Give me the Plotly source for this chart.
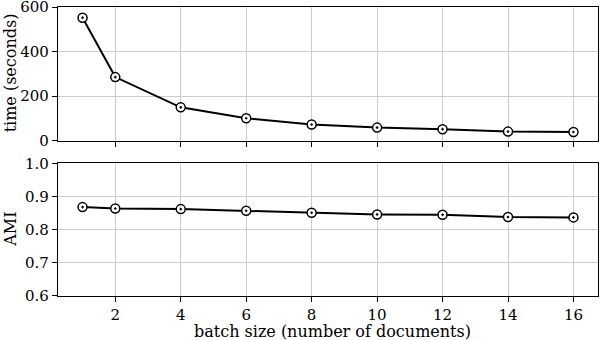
import plotly.graph_objects as go
from plotly.subplots import make_subplots

batch = [1, 2, 4, 6, 8, 10, 12, 14, 16]
time_sec = [552, 285, 149, 100, 72, 58, 51, 40, 38]
ami = [0.868, 0.864, 0.862, 0.857, 0.851, 0.846, 0.845, 0.838, 0.837]

FONT = dict(family="DejaVu Serif", size=16, color="black")
TICKFONT = dict(family="DejaVu Serif", size=15, color="black")

fig = make_subplots(rows=2, cols=1, shared_xaxes=True, vertical_spacing=0.08)

mk = dict(symbol="circle-dot", size=9, color="white", line=dict(color="black", width=1.5))
fig.add_trace(go.Scatter(x=batch, y=time_sec, mode="lines+markers",
                         line=dict(color="black", width=2), marker=mk), row=1, col=1)
fig.add_trace(go.Scatter(x=batch, y=ami, mode="lines+markers",
                         line=dict(color="black", width=2), marker=mk), row=2, col=1)

ax = dict(showline=True, linecolor="black", linewidth=1.2, mirror=True,
          ticks="outside", ticklen=5, tickcolor="black", automargin=False,
          showgrid=True, gridcolor="#cccccc", gridwidth=1, zeroline=False,
          tickfont=TICKFONT, ticklabeloverflow="allow")
fig.update_xaxes(**ax, range=[0.25, 16.75], tickvals=[2, 4, 6, 8, 10, 12, 14, 16])
fig.update_yaxes(**ax)
fig.update_xaxes(showticklabels=False, row=1, col=1)
fig.update_xaxes(ticklabelstandoff=0, row=2, col=1)
fig.update_yaxes(range=[0, 600], tickvals=[0, 200, 400, 600], row=1, col=1)
fig.update_yaxes(range=[0.6, 1.0], tickvals=[0.6, 0.7, 0.8, 0.9, 1.0], tickformat=".1f", row=2, col=1)

# axis titles as annotations so their spots stay fixed
fig.add_annotation(text="batch size (number of documents)", xref="paper", yref="paper",
                   x=0.509, y=-0.122, showarrow=False, font=FONT, borderpad=0,
                   xanchor="center", yanchor="middle")
fig.add_annotation(text="time (seconds)", xref="paper", yref="paper", textangle=-90,
                   x=-0.088, y=0.772, showarrow=False, font=FONT, borderpad=0,
                   xanchor="center", yanchor="middle")
fig.add_annotation(text="AMI", xref="paper", yref="paper", textangle=-90,
                   x=-0.088, y=0.231, showarrow=False, font=FONT, borderpad=0,
                   xanchor="center", yanchor="middle")

fig.update_layout(
    width=600, height=340,
    margin=dict(l=58, r=2, t=7, b=44),
    showlegend=False,
    plot_bgcolor="white", paper_bgcolor="white",
    font=FONT,
)
fig.layout.yaxis.domain = [0.538, 1.0]
fig.layout.yaxis2.domain = [0.0, 0.459]

# drop the default 8px page margin so the figure sits at the top-left corner
fig.write_html("out.html", config={"displayModeBar": False},
               post_script="document.body.style.margin='0';")
